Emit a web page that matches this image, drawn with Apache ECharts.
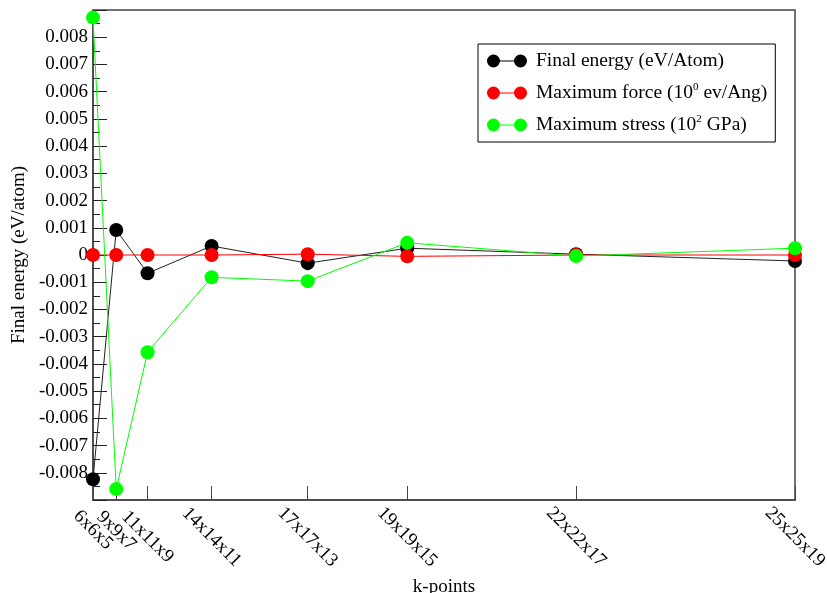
<!DOCTYPE html>
<html>
<head>
<meta charset="utf-8">
<script src="https://cdn.jsdelivr.net/npm/echarts@6/dist/echarts.min.js"></script>
<style>
    html, body { margin: 0; padding: 0; background: #fff; }
    #chart { width: 827px; height: 593px; }
</style>
</head>
<body>
<div id="chart"></div>
<script>
// k-point meshes, plotted against total number of k-points (n1*n2*n3)
var meshLabels = ['6x6x5', '9x9x7', '11x11x9', '14x14x11', '17x17x13', '19x19x15', '22x22x17', '25x25x19']
var kpoints = [180, 567, 1089, 2156, 3757, 5415, 8228, 11875]

var seriesNames = [
    'Final energy (eV/Atom)',
    'Maximum force (10^0 ev/Ang)',
    'Maximum stress (10^2 GPa)'
]
var finalEnergy = [-0.00824, 0.00092, -0.00067, 0.00033, -0.0003, 0.00025, 0.00003, -0.00022]
var maxForce = [0, 0, 0, 0, 0.00003, -0.00005, 0, 0]
var maxStress = [0.00872, -0.0086, -0.00357, -0.00082, -0.00096, 0.00045, -0.00004, 0.00025]

var colors = ['#000000', '#ff0000', '#00ff00']
var font = 'Liberation Serif'

function pairs(ys) {
    return ys.map(function (y, i) { return [kpoints[i], y] })
}

function meshLabel(v) {
    var i = kpoints.indexOf(v)
    return i >= 0 ? meshLabels[i] : ''
}

// legend icon: two dots joined by a line
var legendIcon = 'path://M0,6.5A6.5,6.5 0 1,1 13,6.5A6.5,6.5 0 1,1 0,6.5Z' +
    'M27,6.5A6.5,6.5 0 1,1 40,6.5A6.5,6.5 0 1,1 27,6.5Z' +
    'M6.5,6H33.5V7H6.5Z'

var labelStyle = {
    rotate: -45,
    align: 'center',
    verticalAlign: 'middle',
    hideOverlap: false,
    fontFamily: font,
    fontSize: 19,
    color: '#000',
    formatter: meshLabel
}

// extra label-only axis: the two first meshes sit too close to share one axis
function labelAxis(values, margin) {
    return {
        type: 'value',
        position: 'bottom',
        min: 180,
        max: 11875,
        axisLine: { show: false, onZero: false },
        axisTick: { show: false },
        axisLabel: Object.assign({}, labelStyle, { customValues: values, margin: margin }),
        splitLine: { show: false }
    }
}

var chart = echarts.init(document.getElementById('chart'))
chart.setOption({
    backgroundColor: '#fff',
    animation: false,
    textStyle: { fontFamily: font },
    grid: {
        left: 93,
        right: 32,
        top: 10,
        bottom: 93,
        outerBoundsMode: 'none',
        containLabel: false,
        show: true,
        borderColor: '#444',
        borderWidth: 1.5,
        backgroundColor: 'transparent'
    },
    legend: {
        left: 478,
        top: 44,
        orient: 'vertical',
        icon: legendIcon,
        itemWidth: 40,
        itemHeight: 13,
        itemGap: 11,
        padding: [7, 8, 7, 9],
        borderColor: '#000',
        borderWidth: 1,
        backgroundColor: '#fff',
        data: seriesNames,
        formatter: function (name) {
            return name.replace(/10\^(\d)/, '10{sup|$1}')
        },
        textStyle: {
            fontFamily: font,
            fontSize: 19.5,
            color: '#000',
            lineHeight: 20,
            padding: [0, 0, 0, 4],
            rich: {
                sup: {
                    fontFamily: font,
                    fontSize: 11,
                    color: '#000',
                    verticalAlign: 'bottom',
                    padding: [0, 0, 10, 0]
                }
            }
        }
    },
    xAxis: [
        {
            type: 'value',
            min: 180,
            max: 11875,
            name: 'k-points',
            nameLocation: 'middle',
            nameGap: 69,
            nameTextStyle: { fontFamily: font, fontSize: 19, color: '#000' },
            axisLine: { onZero: false, lineStyle: { color: '#444', width: 1.5 } },
            axisTick: {
                inside: true,
                length: 14,
                customValues: kpoints,
                lineStyle: { color: '#444', width: 1 }
            },
            axisLabel: Object.assign({}, labelStyle, {
                customValues: kpoints.slice(2),
                showMinLabel: true,
                showMaxLabel: true,
                margin: 37
            }),
            splitLine: { show: false }
        },
        labelAxis([kpoints[0]], 30),
        labelAxis([kpoints[1]], 31)
    ],
    yAxis: {
        type: 'value',
        min: -0.009,
        max: 0.009,
        interval: 0.001,
        name: 'Final energy (eV/atom)',
        nameLocation: 'middle',
        nameGap: 63,
        nameTextStyle: { fontFamily: font, fontSize: 19, color: '#000' },
        axisLine: { lineStyle: { color: '#444', width: 1.5 } },
        axisTick: { inside: true, length: 14, lineStyle: { color: '#222', width: 1 } },
        minorTick: { show: true, splitNumber: 2, length: 7, lineStyle: { color: '#222', width: 1 } },
        axisLabel: {
            margin: 5,
            fontFamily: font,
            fontSize: 19,
            color: '#000',
            formatter: function (v) {
                if (Math.abs(v) > 0.0085) return ''
                if (Math.abs(v) < 1e-9) return '0'
                return v.toFixed(3)
            }
        },
        splitLine: { show: false }
    },
    series: [
        {
            name: seriesNames[0],
            type: 'line',
            data: pairs(finalEnergy),
            symbol: 'circle',
            symbolSize: 14,
            itemStyle: { color: colors[0] },
            lineStyle: { color: '#222', width: 1 }
        },
        {
            name: seriesNames[1],
            type: 'line',
            data: pairs(maxForce),
            symbol: 'circle',
            symbolSize: 14,
            itemStyle: { color: colors[1] },
            lineStyle: { color: colors[1], width: 1 }
        },
        {
            name: seriesNames[2],
            type: 'line',
            data: pairs(maxStress),
            symbol: 'circle',
            symbolSize: 14,
            itemStyle: { color: colors[2] },
            lineStyle: { color: colors[2], width: 1 }
        }
    ]
})
</script>
</body>
</html>
